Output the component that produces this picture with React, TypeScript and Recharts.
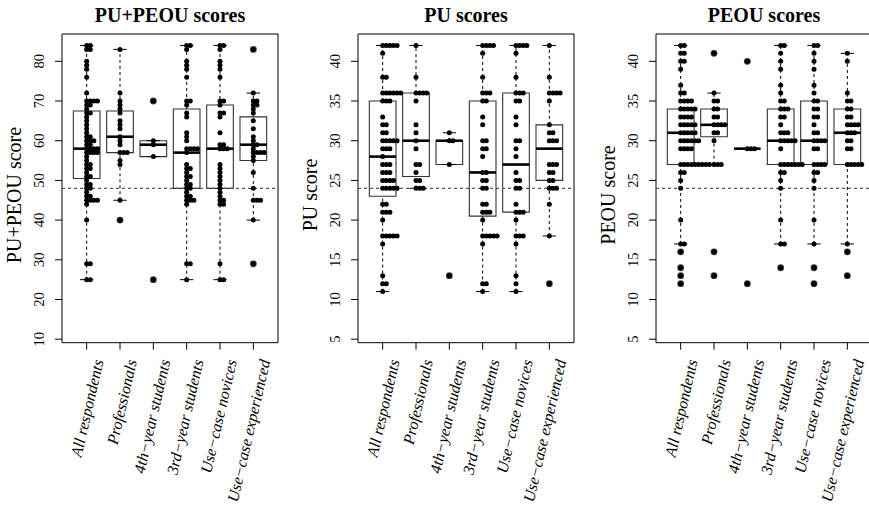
import React from 'react';
import { ScatterChart, Scatter, XAxis, YAxis, ReferenceArea, ReferenceLine } from 'recharts';

const SERIF = 'Liberation Serif, Times New Roman, Times, serif';

const GROUPS = [
  'All respondents',
  'Professionals',
  '4th\u2212year students',
  '3rd\u2212year students',
  'Use\u2212case novices',
  'Use\u2212case experienced',
];

type Row = [number, number]; // [score, number of respondents]

// ---- PU+PEOU scores (dots) ----
const sumAll: Row[] = [[84,2],[83,2],[80,1],[79,1],[78,1],[76,1],[72,1],[70,4],[69,2],[68,1],[67,2],[66,1],[65,1],[64,1],[63,1],[62,1],[61,2],[60,3],[59,2],[58,4],[57,4],[56,1],[55,1],[54,2],[53,2],[52,1],[51,2],[50,1],[49,2],[48,2],[47,1],[46,2],[45,4],[44,1],[40,1],[29,2],[25,2]];
const sumPro: Row[] = [[83,1],[72,1],[70,1],[69,1],[68,1],[67,1],[65,1],[64,1],[63,1],[61,1],[60,1],[59,1],[57,3],[55,1],[54,1],[45,1],[40,1]];
const sum4th: Row[] = [[70,1],[60,1],[59,1],[56,1],[25,1]];
const sum3rd: Row[] = [[84,2],[83,1],[80,1],[79,1],[78,1],[76,1],[70,2],[69,1],[67,1],[66,1],[62,1],[61,1],[60,1],[58,4],[57,1],[54,1],[53,2],[52,1],[51,2],[50,1],[49,2],[48,2],[47,1],[46,2],[45,3],[44,1],[29,2],[25,1]];
const sumNov: Row[] = [[84,2],[83,1],[80,1],[79,1],[78,1],[76,1],[70,2],[69,1],[67,2],[66,1],[62,1],[59,2],[58,3],[54,1],[53,1],[52,1],[51,1],[50,1],[49,1],[48,1],[47,1],[46,1],[45,2],[44,2],[29,1],[25,2]];
const sumExp: Row[] = [[83,1],[72,1],[70,2],[69,2],[68,1],[67,1],[65,1],[63,1],[61,1],[60,1],[59,2],[58,1],[57,4],[56,1],[55,1],[52,1],[48,1],[45,3],[40,1],[29,1]];
// box stats: [lower whisker, lower hinge, median, upper hinge, upper whisker]
const sumStats = [[25,50.5,58,67.5,84],[45,57,61,67.5,83],[56,56,59,60,60],[25,48,57,68,84],[25,48,58,69,84],[40,55,59,66,72]];

// ---- PU scores ----
const puAll: Row[] = [[42,5],[41,1],[38,2],[36,6],[35,3],[33,1],[32,2],[31,2],[30,5],[29,3],[28,1],[27,3],[26,3],[25,4],[24,5],[22,2],[21,3],[20,1],[18,5],[17,1],[13,1],[12,2],[11,1]];
const puPro: Row[] = [[42,1],[38,1],[36,4],[35,1],[32,1],[31,1],[30,1],[29,1],[27,2],[26,1],[25,2],[24,3]];
const pu4th: Row[] = [[31,1],[30,2],[27,1],[13,1]];
const pu3rd: Row[] = [[42,4],[41,1],[38,1],[36,3],[35,2],[33,1],[32,1],[30,2],[29,2],[28,1],[26,2],[25,2],[24,2],[22,2],[21,3],[20,1],[18,5],[17,1],[12,2],[11,1]];
const puNov: Row[] = [[42,4],[41,1],[38,1],[36,3],[35,2],[33,1],[32,1],[30,2],[29,1],[28,1],[26,1],[25,2],[24,2],[22,1],[21,3],[20,1],[18,3],[17,1],[13,1],[12,1],[11,1]];
const puExp: Row[] = [[42,1],[38,1],[36,4],[35,1],[32,1],[31,2],[30,3],[27,3],[26,2],[25,2],[24,3],[22,1],[18,1],[12,1]];
const puStats = [[11,23,28,35,42],[24,25.5,30,36,42],[27,27,30,30,31],[11,20.5,26,35,42],[11,21,27,36,42],[18,25,29,32,42]];

// ---- PEOU scores ----
const peAll: Row[] = [[42,2],[41,2],[40,2],[39,1],[37,1],[36,2],[35,4],[34,5],[33,4],[32,5],[31,5],[30,6],[29,4],[27,9],[26,2],[25,1],[24,1],[20,1],[17,2],[16,1],[14,1],[13,1],[12,1]];
const pePro: Row[] = [[41,1],[36,1],[35,2],[34,2],[33,2],[32,4],[31,2],[30,1],[27,3],[16,1],[13,1]];
const pe4th: Row[] = [[40,1],[29,3],[12,1]];
const pe3rd: Row[] = [[42,2],[41,1],[40,1],[39,1],[37,1],[36,1],[35,2],[34,3],[33,2],[32,1],[31,3],[30,5],[29,1],[27,7],[26,2],[25,1],[24,1],[20,1],[17,2],[14,1]];
const peNov: Row[] = [[42,2],[41,1],[40,1],[39,1],[37,1],[36,1],[35,2],[34,2],[33,2],[32,1],[31,2],[30,4],[29,2],[27,4],[26,2],[25,1],[24,1],[20,1],[17,1],[14,1],[12,1]];
const peExp: Row[] = [[41,1],[40,1],[36,1],[35,2],[34,2],[33,2],[32,4],[31,3],[30,2],[29,2],[27,5],[17,1],[16,1],[13,1]];
const peStats = [[17,27,31,34,42],[27,30.5,32,34,36],[29,29,29,29,29],[17,27,30,34,42],[17,27,30,35,42],[17,27,31,34,41]];

const SUM_TICKS = [10, 20, 30, 40, 50, 60, 70, 80];
const SUB_TICKS = [5, 10, 15, 20, 25, 30, 35, 40];

const PANELS = [
  { title: 'PU+PEOU scores', ylab: 'PU+PEOU score', lim: [12, 84], ticks: SUM_TICKS, ref: 48, rows: [sumAll, sumPro, sum4th, sum3rd, sumNov, sumExp], stats: sumStats },
  { title: 'PU scores', ylab: 'PU score', lim: [6, 42], ticks: SUB_TICKS, ref: 24, rows: [puAll, puPro, pu4th, pu3rd, puNov, puExp], stats: puStats },
  { title: 'PEOU scores', ylab: 'PEOU score', lim: [6, 42], ticks: SUB_TICKS, ref: 24, rows: [peAll, pePro, pe4th, pe3rd, peNov, peExp], stats: peStats },
];

// layout
const CH_W = 297;
const CH_H = 505;
const PLOT_L = 62;
const PLOT_W = 216;
const PLOT_T = 34;
const PLOT_B = 342.7;
const PANEL_X = [0, 296, 593.7];
const X_DOM: [number, number] = [0.26, 6.74];
const PX_PER_UNIT = PLOT_W / (X_DOM[1] - X_DOM[0]);
const DOT_STEP = 3.6 / PX_PER_UNIT;
const HALF_BOX = 0.4;
const HALF_STAPLE = 0.2;

const XTick = (props: any) => {
  const { x, payload } = props;
  const ax = x + 17;
  const ay = 361;
  return (
    <text x={ax} y={ay} transform={`rotate(-77 ${ax} ${ay})`} textAnchor="end" fontStyle="italic" fontSize={16} fontFamily={SERIF} fill="#000">
      {GROUPS[payload.value - 1]}
    </text>
  );
};

const YTick = (props: any) => {
  const { y, payload } = props;
  const ax = 39.5;
  return (
    <text x={ax} y={y} transform={`rotate(-90 ${ax} ${y})`} textAnchor="middle" dominantBaseline="central" fontSize={14.5} fontFamily={SERIF} fill="#000">
      {payload.value}
    </text>
  );
};

const Dot = (props: any) => <circle cx={props.cx} cy={props.cy} r={2.5} fill="#000" />;
const Out = (props: any) => <circle cx={props.cx} cy={props.cy} r={3.4} fill="#3a3a3a" />;

function Panel({ cfg, left }: { cfg: any; left: number }) {
  const [lo, hi] = cfg.lim;
  const e = (hi - lo) * 0.04;
  const yDom: [number, number] = [lo - e, hi + e];

  const dots: { x: number; y: number }[] = [];
  const outs: { x: number; y: number }[] = [];
  cfg.rows.forEach((rows: Row[], gi: number) => {
    const pos = gi + 1;
    const [wl, , , , wh] = cfg.stats[gi];
    rows.forEach(([v, n]) => {
      for (let k = 0; k < n; k++) dots.push({ x: pos + k * DOT_STEP, y: v });
      if (v < wl || v > wh) outs.push({ x: pos, y: v });
    });
  });

  return (
    <div style={{ position: 'absolute', left, top: 0, width: CH_W, height: CH_H }}>
      <ScatterChart width={CH_W} height={CH_H} margin={{ top: PLOT_T, right: CH_W - PLOT_L - PLOT_W, bottom: CH_H - PLOT_B - 100, left: 0 }}>
        <XAxis type="number" dataKey="x" domain={X_DOM} ticks={[1, 2, 3, 4, 5, 6]} allowDataOverflow interval={0}
          axisLine={false} tickLine={{ stroke: '#000' }} tickSize={7} height={100} tick={XTick} />
        <YAxis type="number" dataKey="y" domain={yDom} ticks={cfg.ticks} allowDataOverflow interval={0}
          axisLine={false} tickLine={{ stroke: '#000' }} tickSize={7} width={PLOT_L} tick={YTick} />
        <ReferenceArea x1={X_DOM[0]} x2={X_DOM[1]} y1={yDom[0]} y2={yDom[1]} fill="none" fillOpacity={0} stroke="#000" strokeWidth={1} ifOverflow="visible" />
        {cfg.stats.map((s: number[], gi: number) => {
          const p = gi + 1;
          const [wl, q1, md, q3, wh] = s;
          return (
            <React.Fragment key={gi}>
              <ReferenceArea x1={p - HALF_BOX} x2={p + HALF_BOX} y1={q1} y2={q3} fill="none" fillOpacity={0} stroke="#333" strokeWidth={1.1} ifOverflow="visible" />
              {wh > q3 && <ReferenceLine segment={[{ x: p, y: q3 }, { x: p, y: wh }]} stroke="#000" strokeDasharray="3 3" strokeWidth={1} ifOverflow="visible" />}
              {wl < q1 && <ReferenceLine segment={[{ x: p, y: wl }, { x: p, y: q1 }]} stroke="#000" strokeDasharray="3 3" strokeWidth={1} ifOverflow="visible" />}
              <ReferenceLine segment={[{ x: p - HALF_STAPLE, y: wh }, { x: p + HALF_STAPLE, y: wh }]} stroke="#000" strokeWidth={1} ifOverflow="visible" />
              <ReferenceLine segment={[{ x: p - HALF_STAPLE, y: wl }, { x: p + HALF_STAPLE, y: wl }]} stroke="#000" strokeWidth={1} ifOverflow="visible" />
              <ReferenceLine segment={[{ x: p - HALF_BOX, y: md }, { x: p + HALF_BOX, y: md }]} stroke="#000" strokeWidth={2.6} ifOverflow="visible" />
            </React.Fragment>
          );
        })}
        <ReferenceLine y={cfg.ref} stroke="#555" strokeDasharray="3 3" strokeWidth={1.1} />
        <Scatter data={outs} dataKey="y" shape={Out} isAnimationActive={false} />
        <Scatter data={dots} dataKey="y" shape={Dot} isAnimationActive={false} />
      </ScatterChart>
      <svg width={CH_W} height={CH_H} style={{ position: 'absolute', left: 0, top: 0, pointerEvents: 'none' }}>
        <text x={PLOT_L + PLOT_W / 2} y={22} textAnchor="middle" fontWeight="bold" fontSize={20} fontFamily={SERIF} fill="#000">{cfg.title}</text>
        <text x={14.2} y={195} transform="rotate(-90 14.2 195)" textAnchor="middle" dominantBaseline="central" fontSize={20} fontFamily={SERIF} fill="#000">{cfg.ylab}</text>
      </svg>
    </div>
  );
}

export default function App() {
  return (
    <div style={{ position: 'absolute', left: 0, top: 0, width: 869, height: 505, overflow: 'hidden', background: '#fff', fontFamily: SERIF }}>
      {PANELS.map((cfg, i) => (
        <Panel key={i} cfg={cfg} left={PANEL_X[i]} />
      ))}
    </div>
  );
}
